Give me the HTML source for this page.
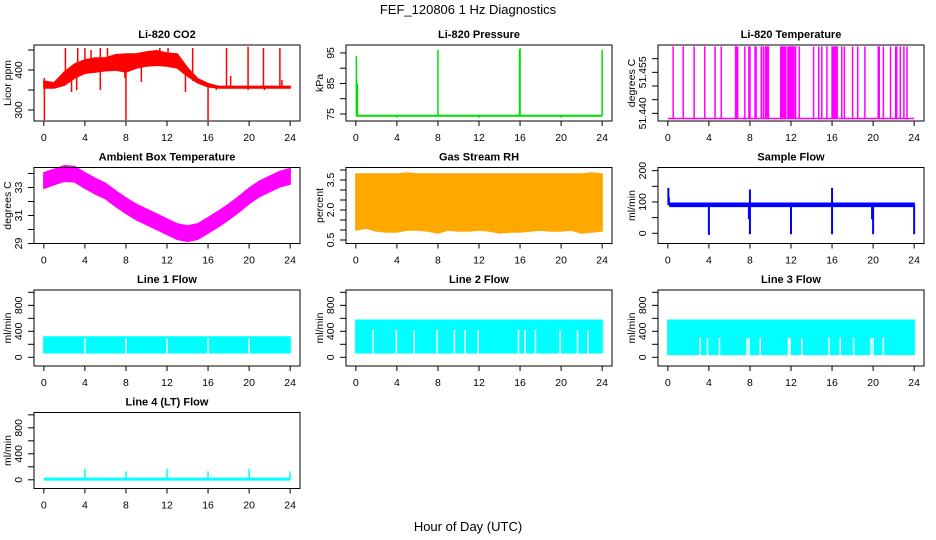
<!DOCTYPE html>
<html><head><meta charset="utf-8"><style>
body{margin:0;background:#fff}
svg{display:block;font-family:"Liberation Sans",sans-serif}
</style></head><body>
<svg id="chart" width="936" height="540" viewBox="0 0 936 540">
<text x="468" y="14" text-anchor="middle" font-size="13">FEF_120806  1 Hz Diagnostics</text>
<text x="468" y="531" text-anchor="middle" font-size="13">Hour of Day (UTC)</text>
</svg>
<script>
// ---- shared ----
const hours = [0,1,2,3,4,5,6,7,8,9,10,11,12,13,14,15,16,17,18,19,20,21,22,23,24];
const xTicks = [0,4,8,12,16,20,24];
// CO2
const co2Lo = [355,355,362,380,392,395,398,400,395,405,410,412,410,405,385,368,358,355,355,355,355,355,355,355,355];
const co2Hi = [372,368,395,415,425,430,430,438,440,440,445,448,442,440,405,378,366,359,359,359,359,359,359,359,359];
const co2SpikeT = [0.05,0.05,2.1,3.3,4.0,4.6,5.5,6.2,8.0,7.9,11.3,12.1,14.5,16.0,15.9,17.8,18.2,19.9,21.4,23.0,23.2,2.7,3.2,5.5,9.5,13.8,16.8,19.9,21.5];
const co2SpikeV = [275,380,455,455,455,450,455,455,275,380,455,455,455,275,360,455,385,458,455,455,375,345,350,350,370,345,350,350,350];
// Pressure
const presBase = 74.4;
const presSpikeT = [0.05,0.15,8.0,16.0,15.95,24.0,4.0,12.0,20.0];
const presSpikeV = [94,85,96,96.5,96,96,73.8,73.8,73.8];
// Li-820 temperature
const ltBase = 51.4381;
const ltTop = 51.4645;
const ltSpikeT = [0.52,1.5,2.56,3.6,4.6,5.2,6.6,6.7,6.8,7.5,7.9,8.0,8.5,8.6,9.1,9.3,9.5,9.6,9.7,9.8,11.0,11.1,11.2,11.3,11.4,11.5,11.7,11.8,11.9,12.0,12.1,12.2,12.3,12.45,12.8,14.2,14.7,15.0,15.5,16.0,16.1,16.2,16.3,16.4,16.5,16.95,17.2,18.0,18.5,19.2,20.5,20.6,21.0,21.7,22.2,22.3,22.65,23.0,23.3];
// Ambient box temperature
const ambMid = [33.5,33.75,34.0,33.95,33.5,33.1,32.75,32.2,31.7,31.25,30.9,30.55,30.2,29.85,29.7,29.85,30.3,30.75,31.25,31.8,32.4,32.9,33.25,33.6,33.8];
const ambHalf = 0.55;
// Gas stream RH
const rhHi = [3.8,3.8,3.8,3.8,3.8,3.85,3.8,3.8,3.8,3.8,3.8,3.8,3.8,3.8,3.8,3.8,3.8,3.8,3.8,3.8,3.8,3.8,3.8,3.85,3.8];
const rhLo = [1.0,1.1,0.95,0.9,0.9,1.0,1.0,0.95,0.85,1.0,0.95,0.95,1.0,0.95,0.85,0.9,0.9,0.95,1.0,0.95,0.95,1.0,0.85,0.9,0.95];
// Sample flow
const sfLo = 86, sfHi = 96;
const sfSpikeT = [0.05,0.1,4.0,8.0,8.0,12.0,16.0,16.0,20.0,24.0,7.9,19.9];
const sfSpikeV = [145,115,-5,-3,140,-3,145,-3,-3,-3,45,45];
// Lines
const l1Lo = 70, l1Hi = 312;
const l1Gaps = [4.0,8.0,12.0,16.0,20.0];
const l2Lo = 70, l2Hi = 570;
const l2Gaps = [1.68,3.95,5.67,7.9,9.6,10.65,11.9,15.85,16.5,17.5,19.9,21.6,22.6];
const l3Lo = 45, l3Hi = 570;
const l3Gaps = [3.15,3.86,5.03,7.7,7.9,9.0,11.75,11.9,13.05,15.7,16.8,18.1,19.8,20.0,21.0];
const l4Base = 10;
const l4SpikeT = [4,8,12,16,20,24];
const l4SpikeV = [170,130,170,130,170,130];

const svg = document.getElementById('chart');
const NS = 'http://www.w3.org/2000/svg';
function mk(tag, attrs, parent){const e=document.createElementNS(NS,tag);for(const k in attrs)e.setAttribute(k,attrs[k]);(parent||svg).appendChild(e);return e;}

const COLS=[34,346,658], ROWS=[45,167.5,290,412.5], W=266, H=76;
function panel(col,row,title,ytitle,dom,yticks,ylabels,name){
  const x0=COLS[col], y0=ROWS[row];
  const g=mk('g',{});
  
  
  const xs=t=>x0+(t+0.96)/25.92*W;
  const ys=v=>y0+H-(v-dom[0])/(dom[1]-dom[0])*H;
  const plot=mk('g',{},g);
  
  
  const t=mk('text',{x:x0+W/2,y:y0-7,'text-anchor':'middle','font-size':11,'font-weight':'bold'},g);
  t.textContent=title;
  
  
  const ax=mk('g',{stroke:'#000','stroke-width':1,fill:'none'},g);
  
  
  mk('rect',{x:x0,y:y0,width:W,height:H},ax);
  const xb=y0+H;
  mk('line',{x1:xs(xTicks[0]),x2:xs(xTicks[xTicks.length-1]),y1:xb,y2:xb},ax);
  xTicks.forEach(v=>{
    mk('line',{x1:xs(v),x2:xs(v),y1:xb,y2:xb+5},ax);
    const l=mk('text',{x:xs(v),y:xb+20,'text-anchor':'middle','font-size':10.5},g);
    l.textContent=v;
    
    
  });
  yticks.forEach(v=>{
    const yy=ys(v); if(yy<y0-1)return;
    mk('line',{x1:x0-6,x2:x0,y1:yy,y2:yy},ax);
  });
  ylabels.forEach(v=>{
    const yy=ys(v);
    const l=mk('text',{x:0,y:0,'text-anchor':'middle','font-size':10.5,transform:`translate(${x0-12},${yy}) rotate(-90)`},g);
    l.textContent=v;
    
    
  });
  const yt=mk('text',{x:0,y:0,'text-anchor':'middle','font-size':10.5,transform:`translate(${x0-23},${y0+H/2}) rotate(-90)`},g);
  yt.textContent=ytitle;
  
  
  return {xs,ys,plot,x0,y0};
}
function band(p,ts,lo,hi,fill,name){
  let d='M'+ts.map((t,i)=>p.xs(t)+','+p.ys(hi[i])).join('L');
  for(let i=ts.length-1;i>=0;i--) d+='L'+p.xs(ts[i])+','+p.ys(lo[i]);
  const e=mk('path',{d:d+'Z',fill:fill,stroke:fill,'stroke-width':1.5},p.plot);
  
  
}
function vline(p,t,v1,v2,color,w,name){
  const e=mk('line',{x1:p.xs(t),x2:p.xs(t),y1:p.ys(v1),y2:p.ys(v2),stroke:color,'stroke-width':w||1.5},p.plot);
  
  
}
function hline(p,t1,t2,v,color,w,name){
  const e=mk('line',{x1:p.xs(t1),x2:p.xs(t2),y1:p.ys(v),y2:p.ys(v),stroke:color,'stroke-width':w||1.5},p.plot);
  
  
}
const flowDom=[-134,1036], flowTicks=[0,200,400,600,800,1000], flowLabels=[0,400,800];

// CO2
let p=panel(0,0,'Li-820 CO2','Licor ppm',[272.5,462.5],[300,350,400,450],[300,400],'co2');
band(p,hours,co2Lo,co2Hi,'#ff0000','co2-band');
co2SpikeT.forEach((t,i)=>{const h=Math.round(t);const m=(co2Lo[h]+co2Hi[h])/2;vline(p,t,m,co2SpikeV[i],'#ff0000',1.5,'co2-spike');});
// Pressure
p=panel(1,0,'Li-820 Pressure','kPa',[72.7,97.6],[75,80,85,90,95],[75,85,95],'pressure');
hline(p,0,24,presBase,'#00dd00',2,'pressure-line');
presSpikeT.forEach((t,i)=>vline(p,t,presBase,presSpikeV[i],'#00dd00',1.5,'pressure-spike'));
// Li temp
p=panel(2,0,'Li-820 Temperature','degrees C',[51.4372,51.465],[51.440,51.445,51.450,51.455,51.460],['51.440','51.455'],'li-temp');
hline(p,0,24,ltBase,'#ff00ff',1.5,'li-temp-line');
ltSpikeT.forEach(t=>vline(p,t,ltBase,ltTop,'#ff00ff',1.5,'li-temp-spike'));
// Ambient
p=panel(0,1,'Ambient Box Temperature','degrees C',[29,34.43],[29,30,31,32,33,34],[29,31,33],'ambient');
band(p,hours,ambMid.map(v=>v-ambHalf),ambMid.map(v=>v+ambHalf),'#ff00ff','ambient-band');
// RH
p=panel(1,1,'Gas Stream RH','percent',[0.325,4.125],[0.5,1,1.5,2,2.5,3,3.5,4],['0.5','2.0','3.5'],'rh');
band(p,hours,rhLo,rhHi,'#ffa800','rh-band');
// Sample flow
p=panel(2,1,'Sample Flow','ml/min',[-32.6,210],[0,50,100,150,200],[0,100,200],'sample-flow');
band(p,[0.2,24],[sfLo,sfLo],[sfHi,sfHi],'#0000ff','sample-flow-band');
sfSpikeT.forEach((t,i)=>vline(p,t,90,sfSpikeV[i],'#0000ff',2,'sample-flow-spike'));
// Line 1
p=panel(0,2,'Line 1 Flow','ml/min',flowDom,flowTicks,flowLabels,'line1');
band(p,[0,24],[l1Lo,l1Lo],[l1Hi,l1Hi],'#00ffff','line1-band');
l1Gaps.forEach(t=>vline(p,t,l1Lo-10,l1Hi-20,'#ffffff',1.5,'line1-gap'));
// Line 2
p=panel(1,2,'Line 2 Flow','ml/min',flowDom,flowTicks,flowLabels,'line2');
band(p,[0,24],[l2Lo,l2Lo],[l2Hi,l2Hi],'#00ffff','line2-band');
l2Gaps.forEach(t=>vline(p,t,l2Lo-10,420,'#ffffff',1.5,'line2-gap'));
// Line 3
p=panel(2,2,'Line 3 Flow','ml/min',flowDom,flowTicks,flowLabels,'line3');
band(p,[0,24],[l3Lo,l3Lo],[l3Hi,l3Hi],'#00ffff','line3-band');
l3Gaps.forEach(t=>vline(p,t,l3Lo-10,300,'#ffffff',1.5,'line3-gap'));
// Line 4
p=panel(0,3,'Line 4 (LT) Flow','ml/min',flowDom,flowTicks,flowLabels,'line4');
hline(p,0,24,l4Base,'#00ffff',3,'line4-line');
l4SpikeT.forEach((t,i)=>vline(p,t,l4Base,l4SpikeV[i],'#00ffff',1.5,'line4-spike'));
</script>
</body></html>
